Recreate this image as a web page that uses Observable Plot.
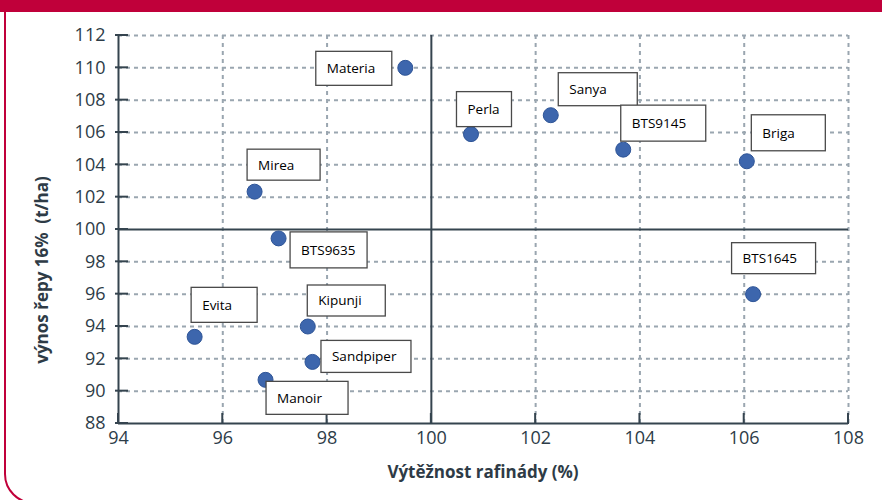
<!DOCTYPE html>
<html>
<head>
<meta charset="utf-8">
<script src="https://cdn.jsdelivr.net/npm/d3@7"></script>
<script src="https://cdn.jsdelivr.net/npm/@observablehq/plot@0.6"></script>
<style>
  html, body { margin: 0; padding: 0; background: #fff; overflow: hidden; }
  #wrap { position: relative; width: 882px; height: 500px; }
  #topbar { position: absolute; left: 0; top: 0; width: 882px; height: 12px; background: #c0003a; z-index: 2; }
  #frame { position: absolute; left: 4px; top: 0; width: 900px; height: 500px; border: 2px solid #c0003a; border-radius: 0 0 30px 30px; z-index: 2; pointer-events: none; }
</style>
</head>
<body>
<div id="wrap"><div id="topbar"></div><div id="frame"></div><div id="chart"></div></div>
<script>
// ---- data ----
const names = ["Materia", "Perla", "Sanya", "BTS9145", "Briga", "Mirea", "BTS9635", "BTS1645", "Evita", "Kipunji", "Sandpiper", "Manoir"];
const refinedYield = [99.50, 100.76, 102.29, 103.68, 106.05, 96.61, 97.07, 106.17, 95.46, 97.63, 97.72, 96.82];
const beetYield = [110.0, 105.9, 107.07, 104.94, 104.22, 102.34, 99.45, 96.0, 93.36, 94.0, 91.81, 90.7];
const xTicks = [94, 96, 98, 100, 102, 104, 106, 108];
const yTicks = [88, 90, 92, 94, 96, 98, 100, 102, 104, 106, 108, 110, 112];
const xTitle = "Výtěžnost rafinády (%)";
const yTitle = "výnos řepy 16%  (t/ha)";

// ---- label box layout (pixel offsets of box from its point: dx, dy, width, height) ----
const labelLayout = [
  [-89, -16, 76, 34], [-14, -42, 55, 35], [8, -42, 79, 33], [-2, -44, 85, 36],
  [5, -46, 74, 36], [-7, -42, 73, 31], [12, -6, 77, 36], [-21, -51, 84, 31],
  [-3, -49, 66, 35], [0, -41, 78, 31], [9, -21, 90, 32], [1, 2, 82, 33]
];

const points = names.map((n, i) => ({name: n, x: refinedYield[i], y: beetYield[i], box: labelLayout[i]}));

const axisColor = "#35444f";
const gridColor = "#9aa6b0";

function decorations(index, scales, values, dim) {
  const {x, y} = scales;
  const g = d3.create("svg:g");
  const x0 = x(xTicks[0]), y0 = y(yTicks[0]);
  // y ticks (crossing, mostly inward)
  g.selectAll(".yt").data(yTicks).join("line")
    .attr("x1", x0 - 3).attr("x2", x0 + 10)
    .attr("y1", d => y(d)).attr("y2", d => y(d))
    .attr("stroke", axisColor).attr("stroke-width", 2);
  // x ticks (inward)
  g.selectAll(".xt").data(xTicks).join("line")
    .attr("x1", d => x(d)).attr("x2", d => x(d))
    .attr("y1", y0 + 1).attr("y2", y0 - 10)
    .attr("stroke", axisColor).attr("stroke-width", 2);
  // label boxes
  const lab = g.selectAll(".lab").data(points).join("g")
    .attr("transform", d => `translate(${x(d.x) + d.box[0]},${y(d.y) + d.box[1]})`);
  lab.append("rect")
    .attr("width", d => d.box[2]).attr("height", d => d.box[3])
    .attr("fill", "#fff").attr("stroke", "#4a4a4a").attr("stroke-width", 1.3);
  lab.append("text")
    .attr("x", 11).attr("y", d => d.box[3] / 2)
    .attr("dy", "0.36em").attr("text-anchor", "start")
    .attr("font-family", "'Open Sans', sans-serif").attr("font-size", 13.5)
    .attr("fill", "#000")
    .text(d => d.name);
  // axis titles
  const cx = (dim.marginLeft + dim.width - dim.marginRight) / 2;
  g.append("text")
    .attr("x", cx).attr("y", dim.height - dim.marginBottom + 49)
    .attr("dy", "0.36em").attr("text-anchor", "middle")
    .attr("font-family", "'Open Sans', sans-serif").attr("font-size", 17).attr("font-weight", "bold")
    .attr("fill", "#2e3b46")
    .text(xTitle);
  g.append("text")
    .attr("transform", `translate(${dim.marginLeft - 76},${(dim.marginTop + dim.height - dim.marginBottom) / 2 + 41}) rotate(-90)`)
    .attr("dy", "0.36em").attr("text-anchor", "middle")
    .attr("font-family", "'Open Sans', sans-serif").attr("font-size", 17).attr("font-weight", "bold")
    .attr("fill", "#2e3b46")
    .text(yTitle);
  return g.node();
}

const chart = Plot.plot({
  width: 882,
  height: 500,
  marginLeft: 118,
  marginRight: 34,
  marginTop: 35,
  marginBottom: 77,
  style: {background: "transparent", fontFamily: "'Open Sans', sans-serif", fontSize: "18px", color: "#2d3c48"},
  x: {domain: [94, 108], ticks: xTicks, tickSize: 0, tickPadding: 8, label: null},
  y: {domain: [88, 112], ticks: yTicks, tickSize: 0, tickPadding: 13, label: null},
  marks: [
    Plot.ruleX(xTicks.filter(v => v !== 94 && v !== 100), {stroke: gridColor, strokeWidth: 2, strokeDasharray: "4,4"}),
    Plot.ruleY(yTicks.filter(v => v !== 88 && v !== 100), {stroke: gridColor, strokeWidth: 2, strokeDasharray: "4,4"}),
    Plot.ruleX([100], {stroke: axisColor, strokeWidth: 2}),
    Plot.ruleY([100], {stroke: axisColor, strokeWidth: 2}),
    Plot.ruleX([94], {stroke: axisColor, strokeWidth: 2}),
    Plot.ruleY([88], {stroke: axisColor, strokeWidth: 2}),
    Plot.dot(points, {x: "x", y: "y", r: 7.5, fill: "#3d66ad", stroke: "#2f5597", strokeWidth: 1}),
    decorations
  ]
});
document.getElementById("chart").appendChild(chart);
</script>
</body>
</html>
